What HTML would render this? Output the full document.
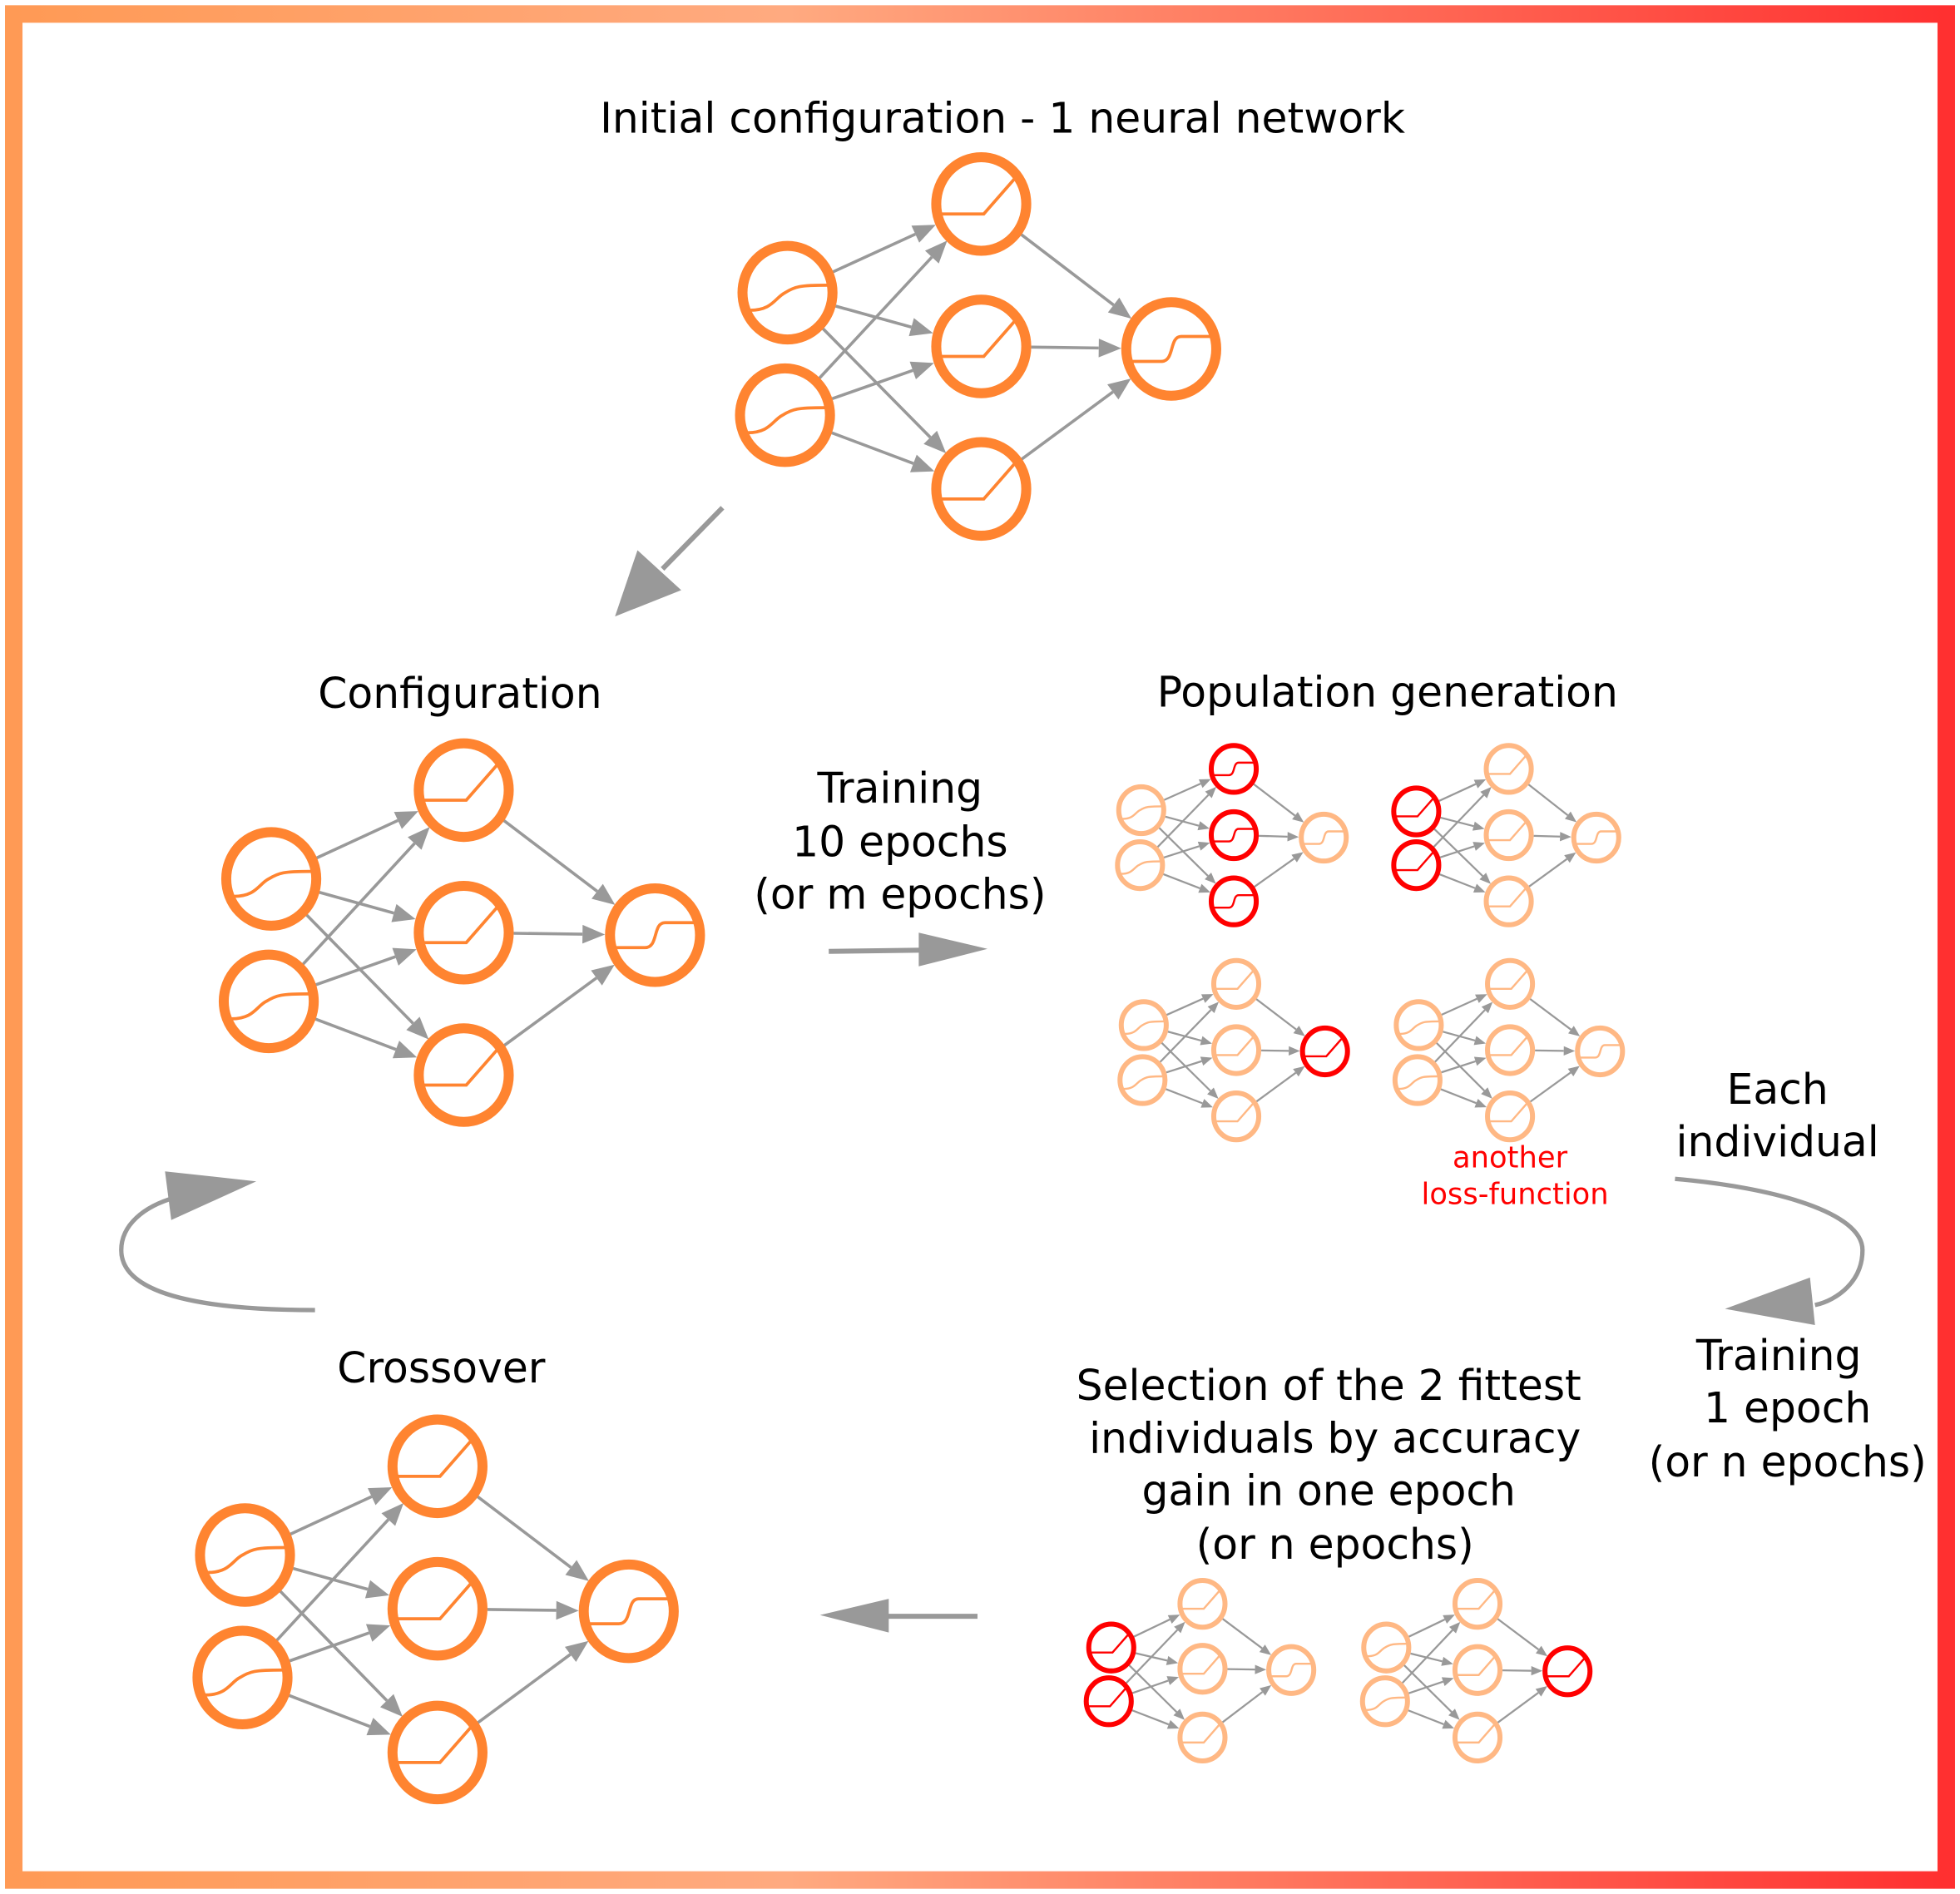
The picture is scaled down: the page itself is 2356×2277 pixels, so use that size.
<!DOCTYPE html>
<html><head><meta charset="utf-8"><style>
html,body{margin:0;padding:0;background:#fff}
svg{display:block}
text{font-family:"DejaVu Sans","Liberation Sans",sans-serif;fill:#000}
</style></head><body>
<svg id="s" width="2356" height="2277" viewBox="0 0 1568 1515" xmlns="http://www.w3.org/2000/svg">
<defs><linearGradient id="g" x1="0" x2="1" y1="0" y2="0"><stop offset="0" stop-color="#FF9A55"/><stop offset="0.4" stop-color="#FFAA80"/><stop offset="1" stop-color="#FF3030"/></linearGradient></defs>
<rect x="0" y="0" width="1568" height="1515" fill="#fff"/>
<rect x="11" y="11" width="1546" height="1493" fill="none" stroke="url(#g)" stroke-width="14"/>
<g id="nets"></g>
<g font-size="33.5" text-anchor="middle">
<text x="802" y="106">Initial configuration - 1 neural network</text>
<text x="368" y="566">Configuration</text>
<text x="1110" y="565">Population generation</text>
<text x="720" y="642">Training</text>
<text x="720" y="685">10 epochs</text>
<text x="720" y="727">(or m epochs)</text>
<text x="1422" y="883">Each</text>
<text x="1422" y="925">individual</text>
<text x="1423" y="1096">Training</text>
<text x="1430" y="1138">1 epoch</text>
<text x="1430" y="1181">(or n epochs)</text>
<text x="1063" y="1120">Selection of the 2 fittest</text>
<text x="1068" y="1162">individuals by accuracy</text>
<text x="1063" y="1204">gain in one epoch</text>
<text x="1068" y="1247">(or n epochs)</text>
<text x="353" y="1106">Crossover</text>
</g>
<g font-size="23.5" text-anchor="middle"><text x="1208" y="934" style="fill:#FF0000">another</text><text x="1212" y="963" style="fill:#FF0000">loss-function</text></g>
<g fill="#999" stroke="#999" stroke-width="4">
<line x1="578" y1="406" x2="530" y2="455"/><polygon points="492,493 510,440 545,472" stroke="none"/>
<line x1="663" y1="761" x2="740" y2="760"/><polygon points="790,759 735,746 735,773" stroke="none"/>
<line x1="782" y1="1293" x2="705" y2="1293"/><polygon points="656,1292 711,1279 711,1306" stroke="none"/>
<path d="M1340,943 C1420,950 1490,970 1490,1000 C1490,1025 1470,1040 1452,1044" fill="none" stroke-width="3.5"/><polygon points="1380,1047 1448,1022 1452,1060" stroke="none"/>
<path d="M252,1048 C180,1048 97,1040 97,1000 C97,980 115,965 140,958" fill="none" stroke-width="3.5"/><polygon points="205,945 132,937 137,976" stroke="none"/>
</g>
</svg>
<script>
const NS="http://www.w3.org/2000/svg";const G=document.getElementById('nets');
function el(t,a){const e=document.createElementNS(NS,t);for(const k in a)e.setAttribute(k,a[k]);G.appendChild(e);return e;}
const OR="#FF8430",LT="#FFB884",RD="#FF0000";
function glyph(type,x,y,s,col,w){let d;
 if(type=='relu')d=`M${x-32*s},${y+8*s} L${x+2*s},${y+8*s} L${x+30*s},${y-24*s}`;
 else if(type=='sig')d=`M${x-30*s},${y+14*s} C${x-12*s},${y+14*s} ${x-10*s},${y+4*s} ${x-2*s},${y} C${x+6*s},${y-5*s} ${x+10*s},${y-6*s} ${x+32*s},${y-6*s}`;
 else d=`M${x-32*s},${y+10*s} L${x-8*s},${y+10*s} C${x+3*s},${y+10*s} ${x-2*s},${y-10*s} ${x+8*s},${y-10*s} L${x+34*s},${y-10*s}`;
 el('path',{d,fill:'none',stroke:col,'stroke-width':w});}
function arrow(a,b,r,s,sw,hl,hw){const dx=b[0]-a[0],dy=b[1]-a[1],L=Math.hypot(dx,dy),ux=dx/L,uy=dy/L;
 const sx=a[0]+ux*(r+sw/2),sy=a[1]+uy*(r+sw/2),tx=b[0]-ux*(r+sw/2),ty=b[1]-uy*(r+sw/2);
 const bx=tx-ux*hl,by=ty-uy*hl;
 el('line',{x1:sx,y1:sy,x2:bx,y2:by,stroke:'#999','stroke-width':s});
 el('polygon',{points:`${tx},${ty} ${bx-uy*hw/2},${by+ux*hw/2} ${bx+uy*hw/2},${by-ux*hw/2}`,fill:'#999'});}
function net(n,sc,base,reds,types){const r=36*sc,sw=8*sc;
 const t=types||['sig','sig','relu','relu','relu','step'];
 for(let i=0;i<2;i++)for(let h=2;h<5;h++)arrow(n[i],n[h],r,2.4*sc+ (sc<1?0.3:0),sw,18*sc,15*sc);
 for(let h=2;h<5;h++)arrow(n[h],n[5],r,2.4*sc+(sc<1?0.3:0),sw,18*sc,15*sc);
 n.forEach((p,i)=>{const c=reds.includes(i)?RD:base;
  el('ellipse',{cx:p[0],cy:p[1],rx:r,ry:r*1.04,fill:'none',stroke:c,'stroke-width':sw});
  glyph(t[i],p[0],p[1],sc,c,sc<1?1.6:2.5);});}
net([[630,234],[628,332],[785,163],[785,277],[785,391],[937,279]],1,OR,[]);
net([[217,703],[215,801],[371,632],[371,746],[371,860],[524,748]],1,OR,[]);
net([[196,1244],[194,1342],[350,1173],[350,1287],[350,1402],[503,1289]],1,OR,[]);
const s=0.5;
net([[913,648],[912,692],[987,615],[987,668],[987,721],[1059,670]],s,LT,[2,3,4],['sig','sig','step','step','step','step']);
net([[1133,649],[1133,692],[1207,615],[1207,668],[1207,721],[1277,670]],s,LT,[0,1],['relu','relu','relu','relu','relu','step']);
net([[915,820],[914,864],[989,787],[989,840],[989,893],[1060,841]],s,LT,[5],['sig','sig','relu','relu','relu','relu']);
net([[1135,820],[1134,864],[1208,787],[1208,840],[1208,893],[1280,841]],s,LT,[]);
net([[889,1318],[887,1361],[962,1283],[962,1335],[962,1390],[1033,1336]],s,LT,[0,1],['relu','relu','relu','relu','relu','step']);
net([[1109,1318],[1108,1361],[1182,1283],[1182,1336],[1182,1390],[1254,1337]],s,LT,[5],['sig','sig','relu','relu','relu','relu']);
</script>
</body></html>
